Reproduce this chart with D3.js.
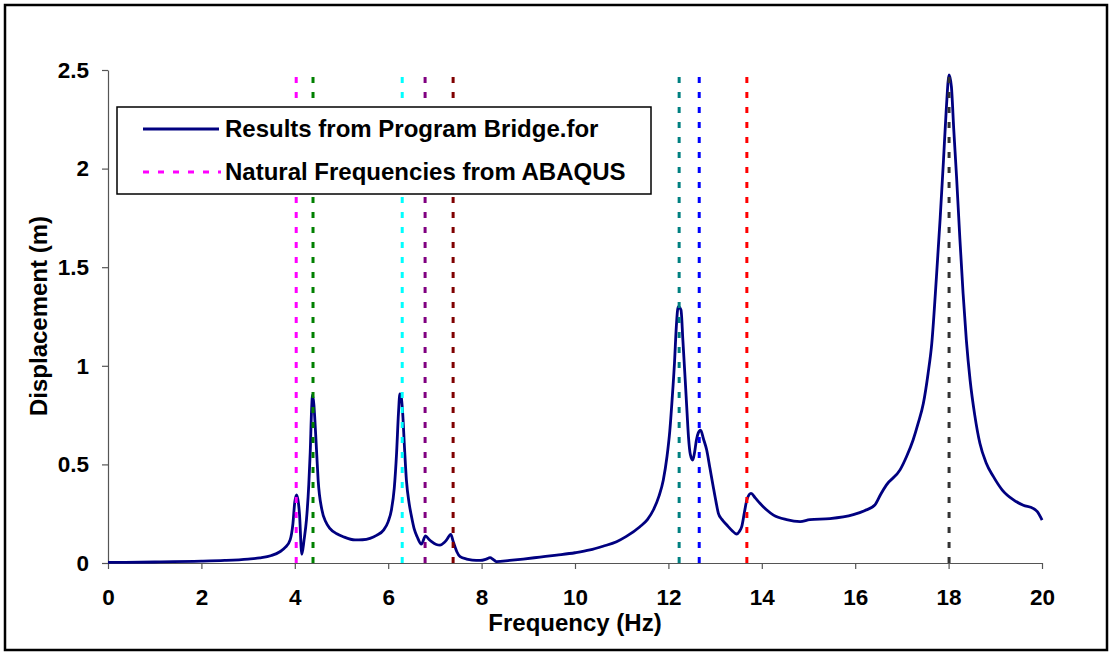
<!DOCTYPE html>
<html lang="en">
<head>
    <meta charset="UTF-8">
    <title>Displacement vs Frequency</title>
    <style>
        body { margin: 0; background: #fff; }
        svg { display: block; }
        text { font-family: "Liberation Sans", Arial, sans-serif; font-weight: bold; fill: #000; }
    </style>
    <script src="https://d3js.org/d3.v7.min.js"></script>
</head>
<body>
<svg width="1112" height="654"></svg>
<script>
    // frequency response (Hz, m)
    const freq = [0, 1, 2, 2.5, 3, 3.25, 3.5, 3.68, 3.8, 3.9, 3.96, 4.0, 4.04, 4.08, 4.1, 4.15, 4.2, 4.25, 4.3, 4.33,
        4.36, 4.38, 4.41, 4.43, 4.47, 4.5, 4.58, 4.66, 4.75, 4.9, 5.04, 5.29, 5.45, 5.61, 5.75, 5.9, 6.0, 6.07, 6.13, 6.18,
        6.22, 6.25, 6.28, 6.31, 6.35, 6.39, 6.45, 6.5, 6.56, 6.62, 6.71, 6.8, 6.87, 6.93, 7.03, 7.11, 7.2, 7.25, 7.34, 7.39,
        7.43, 7.47, 7.54, 7.68, 7.8, 7.97, 8.1, 8.18, 8.25, 8.32, 8.6, 8.89, 9.25, 9.61, 10.0, 10.32, 10.6, 10.89, 11.1, 11.39,
        11.55, 11.68, 11.8, 11.89, 11.97, 12.03, 12.08, 12.13, 12.17, 12.21, 12.27, 12.31, 12.36, 12.4, 12.43, 12.47, 12.52, 12.56, 12.6, 12.64,
        12.69, 12.75, 12.82, 12.89, 12.96, 13.02, 13.07, 13.15, 13.25, 13.36, 13.46, 13.52, 13.57, 13.63, 13.68, 13.77, 13.86, 13.96, 14.1, 14.25,
        14.53, 14.82, 15.03, 15.46, 15.96, 16.2, 16.42, 16.55, 16.67, 16.96, 17.1, 17.24, 17.35, 17.46, 17.56, 17.64, 17.74, 17.82, 17.89, 17.95,
        18.01, 18.06, 18.11, 18.17, 18.24, 18.31, 18.38, 18.46, 18.56, 18.67, 18.8, 18.96, 19.15, 19.39, 19.6, 19.81, 19.9, 20.0];
    const disp = [0.003, 0.005, 0.009, 0.013, 0.02, 0.026, 0.038, 0.057, 0.08, 0.117, 0.2, 0.31, 0.345, 0.3, 0.25, 0.044, 0.12, 0.22, 0.4, 0.56,
        0.78, 0.852, 0.8, 0.725, 0.55, 0.42, 0.27, 0.21, 0.176, 0.148, 0.133, 0.117, 0.118, 0.125, 0.14, 0.167, 0.21, 0.27, 0.38, 0.56,
        0.76, 0.857, 0.84, 0.76, 0.58, 0.42, 0.3, 0.235, 0.17, 0.133, 0.096, 0.138, 0.12, 0.108, 0.094, 0.091, 0.104, 0.117, 0.145, 0.11,
        0.083, 0.057, 0.032, 0.02, 0.015, 0.013, 0.02, 0.027, 0.018, 0.007, 0.013, 0.02, 0.03, 0.04, 0.052, 0.066, 0.085, 0.108, 0.135, 0.184,
        0.22, 0.27, 0.34, 0.42, 0.54, 0.67, 0.83, 1.013, 1.2, 1.3, 1.283, 1.13, 0.928, 0.76, 0.64, 0.55, 0.522, 0.56, 0.624, 0.66,
        0.674, 0.63, 0.573, 0.48, 0.387, 0.31, 0.252, 0.22, 0.193, 0.165, 0.147, 0.16, 0.184, 0.26, 0.32, 0.353, 0.33, 0.303, 0.27, 0.243,
        0.22, 0.21, 0.22, 0.225, 0.245, 0.265, 0.294, 0.35, 0.396, 0.472, 0.54, 0.624, 0.71, 0.81, 0.96, 1.114, 1.452, 1.75, 2.04, 2.3,
        2.475, 2.415, 2.2, 1.96, 1.65, 1.368, 1.13, 0.928, 0.75, 0.607, 0.51, 0.438, 0.37, 0.32, 0.293, 0.277, 0.26, 0.218];

    // ABAQUS natural frequencies (Hz) and their line colours
    const naturalFreqs = [4.03, 4.39, 6.30, 6.79, 7.39, 12.23, 12.66, 13.68, 18.01];
    const naturalColors = ["#ff00ff", "#008000", "#00ffff", "#800080", "#800000", "#008080", "#0000ff", "#ff0000", "#333333"];

    const xTicks = [0, 2, 4, 6, 8, 10, 12, 14, 16, 18, 20];
    const yTicks = [0, 0.5, 1, 1.5, 2, 2.5];
    const legendLabels = ["Results from Program Bridge.for", "Natural Frequencies from ABAQUS"];

    const svg = d3.select("svg");

    // outer frame
    svg.append("rect")
        .attr("x", 5).attr("y", 5)
        .attr("width", 1102).attr("height", 645)
        .attr("fill", "none")
        .attr("stroke", "#000")
        .attr("stroke-width", 2.5);

    const x = d3.scaleLinear().domain([0, 20]).range([108, 1042]);
    const y = d3.scaleLinear().domain([0, 2.5]).range([563, 70]);

    // axes
    const xAxis = svg.append("g")
        .attr("transform", "translate(0,563)")
        .call(d3.axisBottom(x).tickValues(xTicks).tickSize(6).tickSizeOuter(0).tickPadding(20).tickFormat(d3.format("d")));
    const yAxis = svg.append("g")
        .attr("transform", "translate(108,0)")
        .call(d3.axisLeft(y).tickValues(yTicks).tickSize(6).tickSizeOuter(0).tickPadding(13).tickFormat(d => d));

    [xAxis, yAxis].forEach(g => {
        g.select(".domain").attr("stroke", "#555").attr("stroke-width", 1.2);
        g.selectAll(".tick line").attr("stroke", "#555").attr("stroke-width", 1.2);
        g.selectAll(".tick text")
            .attr("font-family", "Liberation Sans, Arial, sans-serif")
            .attr("font-weight", "bold")
            .attr("font-size", 22.5)
            .attr("fill", "#000");
    });

    // axis titles
    svg.append("text")
        .attr("x", 575).attr("y", 631)
        .attr("text-anchor", "middle")
        .attr("font-size", 24)
        .text("Frequency (Hz)");
    svg.append("text")
        .attr("transform", "translate(47,316) rotate(-90)")
        .attr("text-anchor", "middle")
        .attr("font-size", 24)
        .text("Displacement (m)");

    // response curve
    const pts = freq.map((f, i) => [f, disp[i]]);
    const line = d3.line()
        .x(d => x(d[0]))
        .y(d => y(d[1]))
        .curve(d3.curveMonotoneX);
    svg.append("path")
        .datum(pts)
        .attr("d", line)
        .attr("fill", "none")
        .attr("stroke", "#000080")
        .attr("stroke-width", 2.8)
        .attr("stroke-linejoin", "round");

    // natural frequency markers (drawn over the curve)
    svg.selectAll("line.nat")
        .data(naturalFreqs)
        .enter().append("line")
        .attr("class", "nat")
        .attr("x1", d => x(d)).attr("x2", d => x(d))
        .attr("y1", y(0)).attr("y2", y(2.5))
        .attr("stroke", (d, i) => naturalColors[i])
        .attr("stroke-width", 3)
        .attr("stroke-dasharray", "6,9");

    // legend
    const lg = svg.append("g");
    lg.append("rect")
        .attr("x", 117).attr("y", 107)
        .attr("width", 534).attr("height", 87)
        .attr("fill", "#fff")
        .attr("stroke", "#000")
        .attr("stroke-width", 1.5);
    lg.append("line")
        .attr("x1", 143).attr("x2", 219)
        .attr("y1", 129).attr("y2", 129)
        .attr("stroke", "#000080").attr("stroke-width", 2.8);
    lg.append("line")
        .attr("x1", 143).attr("x2", 221)
        .attr("y1", 172).attr("y2", 172)
        .attr("stroke", naturalColors[0]).attr("stroke-width", 3)
        .attr("stroke-dasharray", "6,9");
    lg.selectAll("text")
        .data(legendLabels)
        .enter().append("text")
        .attr("x", 225)
        .attr("y", (d, i) => 137 + i * 43)
        .attr("font-size", 24)
        .text(d => d);
</script>
</body>
</html>
